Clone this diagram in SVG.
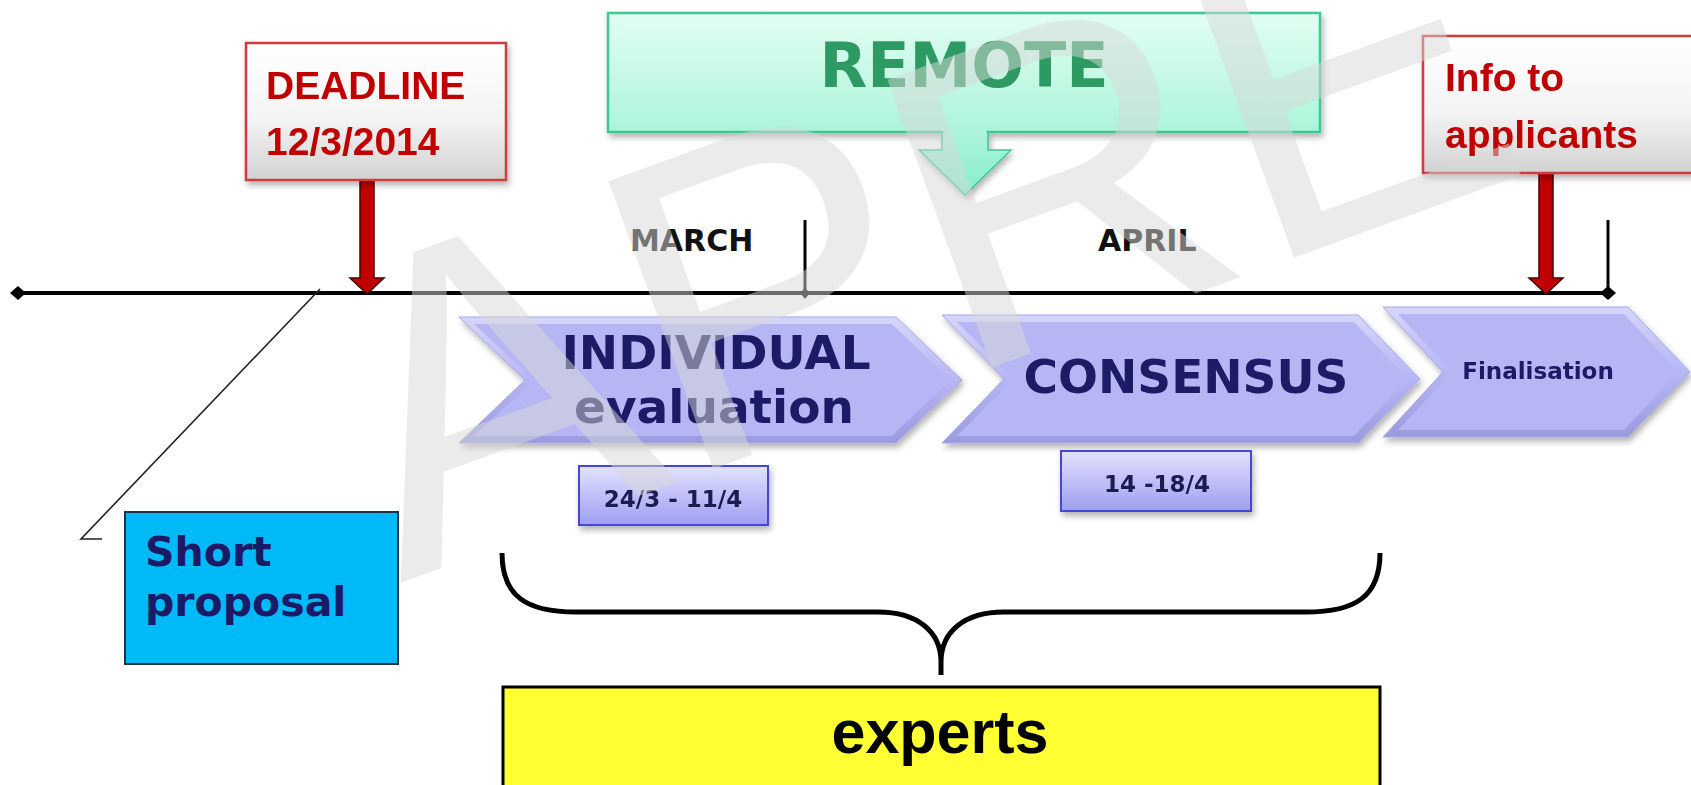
<svg xmlns="http://www.w3.org/2000/svg" width="1691" height="785" viewBox="0 0 1691 785">
<defs>
<style>
.redtxt{font-family:"Liberation Sans",Arial,sans-serif;font-weight:bold;font-size:39px;fill:#C00000}
.chev{font-family:"DejaVu Sans",Verdana,sans-serif;font-weight:bold;fill:#1A1A66;text-anchor:middle}
.month{font-family:"DejaVu Sans",Verdana,sans-serif;font-weight:bold;font-size:30px;fill:#111}
.date{font-family:"DejaVu Sans",Verdana,sans-serif;font-weight:bold;font-size:23px;fill:#1A1A50;text-anchor:middle}
.redbox{fill:url(#gRed);stroke:#D03A3A;stroke-width:2.5}
.chevOuter{fill:url(#gChev);stroke:#A8A8EA;stroke-width:1}
.chevInner{fill:#B6B6F5}
.datebox{fill:url(#gDate);stroke:#4646D6;stroke-width:2}
.redarrow{fill:#C00000;stroke:#4a0000;stroke-width:1.5}
.axis{stroke:#000;stroke-width:4;fill:none}
</style>
<linearGradient id="gRed" x1="0" y1="0" x2="0" y2="1">
<stop offset="0" stop-color="#FFFFFF"/><stop offset="0.55" stop-color="#F4F4F4"/><stop offset="1" stop-color="#D2D2D2"/>
</linearGradient>
<linearGradient id="gRemote" x1="0" y1="0" x2="0" y2="1">
<stop offset="0" stop-color="#E2FEF3"/><stop offset="1" stop-color="#ACF4DA"/>
</linearGradient>
<linearGradient id="gRemoteArrow" x1="0" y1="0" x2="0" y2="1">
<stop offset="0" stop-color="#ACF4DA"/><stop offset="1" stop-color="#86EEC8"/>
</linearGradient>
<linearGradient id="gChev" x1="0" y1="0" x2="0" y2="1">
<stop offset="0" stop-color="#D6D6FB"/><stop offset="0.5" stop-color="#B6B6F5"/><stop offset="1" stop-color="#9A9ADE"/>
</linearGradient>
<linearGradient id="gDate" x1="0" y1="0" x2="0" y2="1">
<stop offset="0" stop-color="#E2E2FD"/><stop offset="1" stop-color="#9E9EF3"/>
</linearGradient>
<filter id="shadow" x="-10%" y="-10%" width="125%" height="135%">
<feDropShadow dx="2" dy="4" stdDeviation="3" flood-color="#000" flood-opacity="0.3"/>
</filter>
</defs>
<rect width="1691" height="785" fill="#FFFFFF"/>

<g id="connectors">
<line class="axis" x1="20" y1="293" x2="1605" y2="293"/>
<path d="M10,293 L18,286 L26,293 L18,300 Z" fill="#000"/>
<path d="M1600,293 L1608,286 L1616,293 L1608,300 Z" fill="#000"/>
<line x1="805" y1="220" x2="805" y2="293" stroke="#000" stroke-width="3"/>
<path d="M800,293 L805,288 L810,293 L805,299 Z" fill="#000"/>
<line x1="1608" y1="220" x2="1608" y2="293" stroke="#000" stroke-width="3"/>
<polyline points="320,289 81,539 102,539" fill="none" stroke="#222" stroke-width="1.6"/>
<path class="redarrow" d="M360,181 L374,181 L374,278 L384,278 L367,294 L350,278 L360,278 Z"/>
<path class="redarrow" d="M1539,173 L1553,173 L1553,278 L1563,278 L1546,294 L1529,278 L1539,278 Z"/>
</g>

<g id="deadline" filter="url(#shadow)">
<rect class="redbox" x="246" y="43" width="260" height="137"/>
<text class="redtxt" x="266" y="99">DEADLINE</text>
<text class="redtxt" x="266" y="155">12/3/2014</text>
</g>

<g id="remote" filter="url(#shadow)">
<rect x="608" y="13" width="712" height="119" fill="url(#gRemote)" stroke="#3CC894" stroke-width="2.5"/>
<path d="M942,132 L988,132 L988,150 L1011,150 L965,195 L919,150 L942,150 Z" fill="url(#gRemoteArrow)" stroke="#3CC894" stroke-width="1.5"/>
<rect x="943.5" y="129" width="43" height="6" fill="#ACF4DA"/>
<text x="964" y="87" font-family="DejaVu Sans, Verdana, sans-serif" font-weight="bold" font-size="62" fill="#2E9A63" text-anchor="middle">REMOTE</text>
</g>

<g id="info" filter="url(#shadow)">
<rect class="redbox" x="1423" y="36" width="280" height="137"/>
<text class="redtxt" x="1445" y="91">Info to</text>
<text class="redtxt" x="1445" y="148">applicants</text>
</g>

<g id="march"><text class="month" x="630" y="251">MARCH</text></g>
<g id="april"><text class="month" x="1098" y="251">APRIL</text></g>

<g id="individual" filter="url(#shadow)">
<polygon class="chevOuter" points="459,317 896,317 962,380 896,443 459,443 525,380"/>
<polygon class="chevInner" points="474,324 892,324 950,380 892,436 474,436 534,380"/>
<text class="chev" x="716" y="369" font-size="47">INDIVIDUAL</text>
<text class="chev" x="714" y="423" font-size="47">evaluation</text>
</g>

<g id="consensus" filter="url(#shadow)">
<polygon class="chevOuter" points="942,315 1358,315 1420,379 1358,443 942,443 1004,379"/>
<polygon class="chevInner" points="957,322 1354,322 1408,379 1354,436 957,436 1013,379"/>
<text class="chev" x="1186" y="393" font-size="47">CONSENSUS</text>
</g>

<g id="finalisation" filter="url(#shadow)">
<polygon class="chevOuter" points="1383,307 1628,307 1690,372 1628,437 1383,437 1443,372"/>
<polygon class="chevInner" points="1398,314 1624,314 1678,372 1624,430 1398,430 1452,372"/>
<text class="chev" x="1538" y="379" font-size="23">Finalisation</text>
</g>

<g id="date-individual" filter="url(#shadow)">
<rect class="datebox" x="579" y="466" width="189" height="59"/>
<text class="date" x="673" y="507">24/3 - 11/4</text>
</g>

<g id="date-consensus" filter="url(#shadow)">
<rect class="datebox" x="1061" y="451" width="190" height="60"/>
<text class="date" x="1157" y="492">14 -18/4</text>
</g>

<g id="short-proposal">
<rect x="125" y="512" width="273" height="152" fill="#00B9F7" stroke="#1E3248" stroke-width="2"/>
<text x="145" y="566" font-family="DejaVu Sans, Verdana, sans-serif" font-weight="bold" font-size="41" fill="#1A1A66">Short</text>
<text x="145" y="616" font-family="DejaVu Sans, Verdana, sans-serif" font-weight="bold" font-size="41" fill="#1A1A66">proposal</text>
</g>

<g id="brace">
<path d="M502,553 C502,596 526,612 576,612 L878,612 C918,612 941,632 941,662 L941,675 M1380,553 C1380,596 1356,612 1306,612 L1004,612 C964,612 941,632 941,662" fill="none" stroke="#000" stroke-width="5"/>
</g>

<g id="experts">
<rect x="503" y="687" width="877" height="110" fill="#FFFF33" stroke="#000" stroke-width="3"/>
<text x="940" y="753" font-family="Liberation Sans, Arial, sans-serif" font-weight="bold" font-size="61" fill="#000" text-anchor="middle">experts</text>
</g>

<g id="watermark">
<text x="400" y="583" transform="rotate(-20 400 583)" font-family="Liberation Sans, Arial, sans-serif" font-size="445" fill="#D8D8D8" fill-opacity="0.5">APRE</text>
</g>
</svg>
